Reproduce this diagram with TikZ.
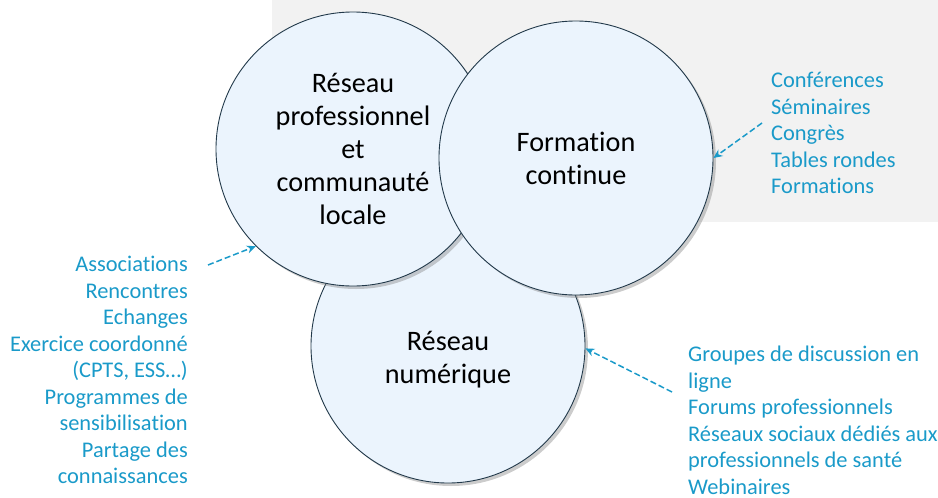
\documentclass[tikz,border=0pt]{standalone}
\usepackage{fontspec}
\setmainfont{Carlito}[Ligatures=NoCommon]
\usepackage{xcolor}
\usetikzlibrary{shadows}
\usetikzlibrary{arrows.meta}
\definecolor{bubfill}{HTML}{EBF4FD}
\definecolor{bubline}{HTML}{22394A}
\definecolor{itemblue}{HTML}{1A9AC9}
\definecolor{panelgray}{HTML}{F2F2F2}

\begin{document}
\begin{tikzpicture}[x=1pt,y=-1pt,
    bubble/.style={circle,draw=bubline,line width=.9pt,fill=bubfill,
      minimum size=274pt,inner sep=0pt,align=center,
      font=\fontsize{28.2}{33}\selectfont,
      drop shadow={shadow xshift=3pt,shadow yshift=-3pt,opacity=.4}},
    bubtext/.style={align=center,inner sep=0pt,font=\fontsize{28.2}{33}\selectfont},
    items/.style={text=itemblue,inner sep=0pt,font=\fontsize{22.4}{26.5}\selectfont},
    hint/.style={itemblue,line width=1.5pt,dash pattern=on 6pt off 3pt,
      -{Stealth[length=9pt,width=8pt]}}]
  \useasboundingbox (0,0) rectangle (938,498);
  \fill[panelgray] (272,0) rectangle (938,222);

  \node[bubble] (nc) at (448,346) {};
  \node[bubtext] (nct) at (448,360) {Réseau\\numérique};
  \node[bubble] (lc) at (353,149) {Réseau\\professionnel\\et\\communauté\\locale};
  \node[bubble] (fc) at (576,158) {Formation\\continue};

  \node[items,anchor=north west,align=left] (fl) at (771,72)
    {Conférences\\Séminaires\\Congrès\\Tables rondes\\Formations};
  \node[items,anchor=north east,align=right] (ll) at (188,256)
    {Associations\\Rencontres\\Echanges\\Exercice coordonné\\(CPTS, ESS…)\\Programmes de\\sensibilisation\\Partage des\\connaissances};
  \node[items,anchor=north west,align=left] (nl) at (688,346)
    {Groupes de discussion en\\ligne\\Forums professionnels\\Réseaux sociaux dédiés aux\\professionnels de santé\\Webinaires};

  \coordinate (fa) at (762,123);
  \coordinate (la) at (208,265);
  \coordinate (na) at (672,392);
  \draw[hint] (fa) -- (fc.0);
  \draw[hint] (la) -- (lc.225);
  \draw[hint] (na) -- (nc.-1);
\end{tikzpicture}
\end{document}
